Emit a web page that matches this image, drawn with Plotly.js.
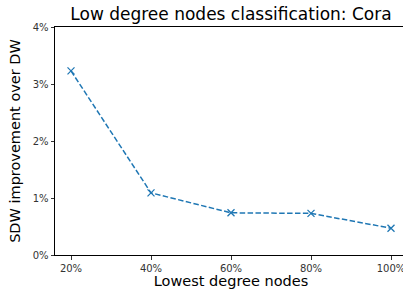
<!DOCTYPE html>
<html><head><meta charset="utf-8">
<script src="https://cdn.plot.ly/plotly-3.0.1.min.js"></script>
<style>html,body{margin:0;padding:0;overflow:hidden;background:#fff;}#chart{width:410px;height:289px;}</style>
</head><body><div id="chart"></div>
<script>
const xValues = [20, 40, 60, 80, 100];
const improvement = [3.23, 1.09, 0.74, 0.73, 0.47];
const xTickLabels = ['20%', '40%', '60%', '80%', '100%'];
const yTickVals = [0, 1, 2, 3, 4];
const yTickLabels = ['0%', '1%', '2%', '3%', '4%'];

const trace = {
  x: xValues, y: improvement, type: 'scatter', mode: 'lines+markers',
  line: {color: '#1f77b4', dash: '5.5px,2.4px', width: 1.5},
  marker: {symbol: 'x-thin', size: 7, line: {color: '#1f77b4', width: 1.3}, color: '#1f77b4'},
  hoverinfo: 'none'
};
const layout = {
  width: 410, height: 289,
  margin: {l: 55, r: 3, t: 27, b: 34},
  paper_bgcolor: '#fff', plot_bgcolor: '#fff',
  showlegend: false,
  font: {family: 'DejaVu Sans', color: '#000'},
  title: {text: 'Low degree nodes classification: Cora', font: {size: 17, color: '#000'}, x: 0.5, xref: 'paper', y: 0.95, yref: 'container', yanchor: 'middle'},
  xaxis: {
    range: [16, 104], tickvals: xValues, ticktext: xTickLabels,
    showgrid: false, zeroline: false, showline: true, linecolor: '#000', linewidth: 1, mirror: true,
    ticks: 'outside', ticklen: 3.5, tickcolor: '#000', tickwidth: 0.8,
    tickfont: {size: 10, color: '#333'},
    title: {text: 'Lowest degree nodes', font: {size: 14.5, color: '#000'}, standoff: 8}
  },
  yaxis: {
    range: [0, 4], tickvals: yTickVals, ticktext: yTickLabels,
    showgrid: false, zeroline: false, showline: true, linecolor: '#000', linewidth: 1, mirror: true,
    ticks: 'outside', ticklen: 3.5, tickcolor: '#000', tickwidth: 0.8,
    tickfont: {size: 10, color: '#333'},
    title: {text: 'SDW improvement over DW', font: {size: 14.5, color: '#000'}, standoff: 8}
  }
};
Plotly.newPlot('chart', [trace], layout, {staticPlot: true, displayModeBar: false});
</script></body></html>
